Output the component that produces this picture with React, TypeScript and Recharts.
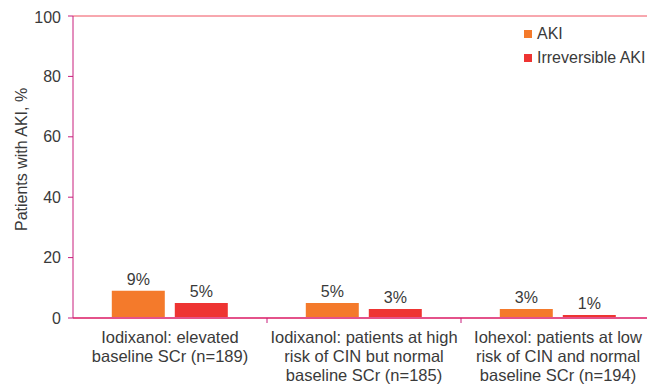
import { BarChart, Bar, XAxis, YAxis, LabelList, ReferenceLine } from 'recharts'

const categories = [
  'Iodixanol: elevated|baseline SCr (n=189)',
  'Iodixanol: patients at high|risk of CIN but normal|baseline SCr (n=185)',
  'Iohexol: patients at low|risk of CIN and normal|baseline SCr (n=194)',
]
const aki = [9, 5, 3]
const irreversibleAki = [5, 3, 1]
const yTicks = [0, 20, 40, 60, 80, 100]

const series = [
  { key: 'aki', name: 'AKI', color: '#F47A2B' },
  { key: 'irreversible', name: 'Irreversible AKI', color: '#EE3432' },
]

const data = categories.map((c, i) => ({ category: c, aki: aki[i], irreversible: irreversibleAki[i] }))

const WIDTH = 647
const HEIGHT = 380
const MARGIN = { top: 8, right: 0, bottom: 0, left: 0 }
const Y_WIDTH = 65
const BAND = (WIDTH - MARGIN.left - MARGIN.right - Y_WIDTH) / categories.length
const FONT = '"Liberation Sans", Arial, sans-serif'
const TEXT = '#3a3a3a'
const AXIS = '#C81E7C'
const BASE = '#E4528A'

function CategoryTick({ x, y, payload, index }: any) {
  const lines = String(payload.value).split('|')
  return (
    <g>
      {index > 0 && <line x1={x - BAND / 2} x2={x - BAND / 2} y1={y - 8} y2={y - 3} stroke={AXIS} strokeWidth={1} />}
      <text x={x} y={y + 17} textAnchor="middle" fontSize={16.5} fill={TEXT} fontFamily={FONT}>
        {lines.map((l, i) => (
          <tspan key={i} x={x} dy={i === 0 ? 0 : 19}>{l}</tspan>
        ))}
      </text>
    </g>
  )
}

function ChartLegend() {
  return (
    <div style={{ position: 'absolute', top: 14, left: 516, fontFamily: FONT, fontSize: 16, color: TEXT }}>
      {series.map((s) => (
        <div key={s.key} style={{ display: 'flex', alignItems: 'center', height: 24 }}>
          <span style={{ width: 8, height: 8, background: s.color, marginRight: 5 }} />
          <span>{s.name}</span>
        </div>
      ))}
    </div>
  )
}

export default function App() {
  return (
    <div style={{ position: 'relative', width: WIDTH, height: HEIGHT }}>
      <BarChart width={WIDTH} height={HEIGHT} data={data} margin={MARGIN} barCategoryGap="20%" barGap={10}>
        <XAxis
          dataKey="category"
          interval={0}
          axisLine={{ stroke: BASE, strokeWidth: 2 }}
          tickLine={false}
          tick={<CategoryTick />}
          height={70}
        />
        <YAxis
          domain={[0, 100]}
          ticks={yTicks}
          width={Y_WIDTH}
          axisLine={{ stroke: AXIS }}
          tickLine={{ stroke: AXIS }}
          tickSize={5}
          tickMargin={7}
          tick={{ fontSize: 16, fill: TEXT, fontFamily: FONT }}
          label={{
            value: 'Patients with AKI, %',
            angle: -90,
            position: 'insideLeft',
            offset: 0,
            dx: 13,
            dy: 64,
            style: { fontSize: 16, fill: TEXT, fontFamily: FONT },
          }}
        />
        <ReferenceLine y={100} stroke="#F0505E" strokeWidth={1} />
        {series.map((s) => (
          <Bar key={s.key} dataKey={s.key} name={s.name} fill={s.color} isAnimationActive={false}>
            <LabelList
              dataKey={s.key}
              position="top"
              offset={6}
              formatter={(v: any) => `${v}%`}
              style={{ fontSize: 16, fill: TEXT, fontFamily: FONT }}
            />
          </Bar>
        ))}
      </BarChart>
      <ChartLegend />
    </div>
  )
}
